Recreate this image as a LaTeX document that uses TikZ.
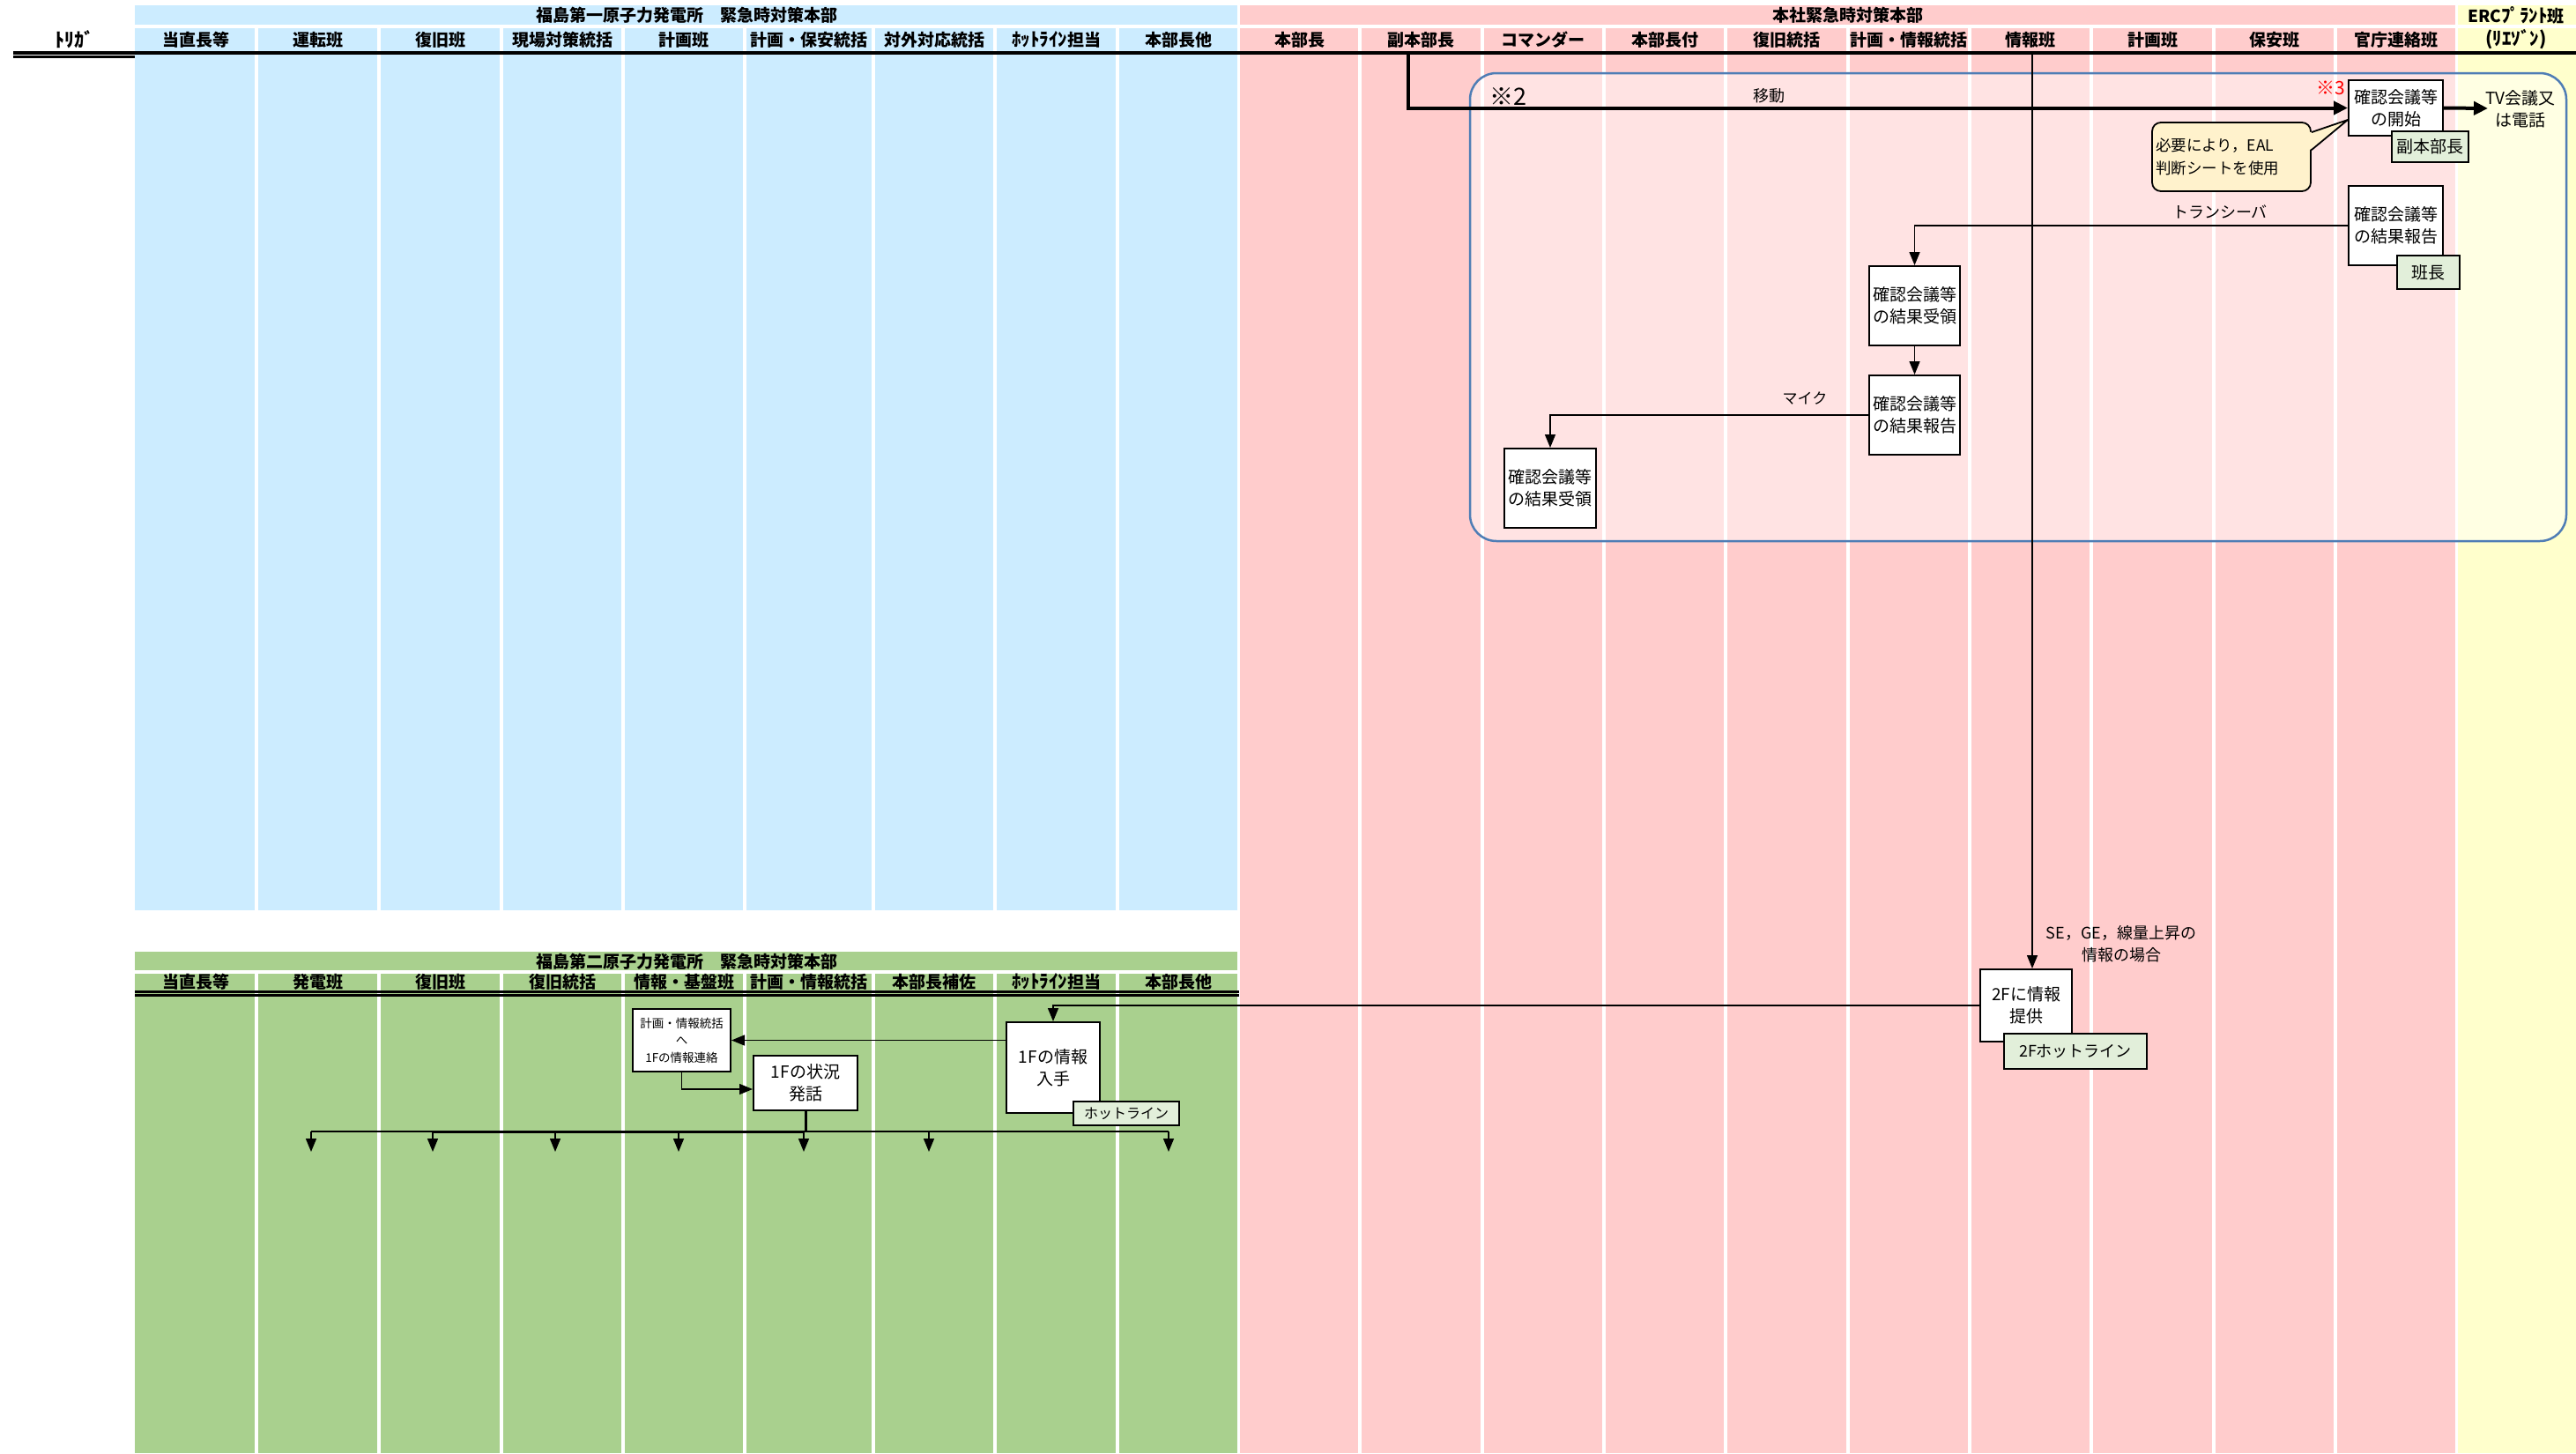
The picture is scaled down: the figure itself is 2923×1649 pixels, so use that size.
\documentclass[tikz,border=0pt]{standalone}
\usepackage{fontspec}
\setmainfont{Noto Sans CJK JP}
\usetikzlibrary{arrows.meta}
\definecolor{cblue}{HTML}{CCECFF}
\definecolor{cpink}{HTML}{FFCCCC}
\definecolor{cyel}{HTML}{FFFFCC}
\definecolor{cgreen}{HTML}{A9D08E}
\definecolor{clab}{HTML}{E2EFDA}
\definecolor{ccall}{HTML}{FFF2CC}
\definecolor{cborder}{HTML}{4F7DB5}
\newcommand{\hk}[1]{{\fontsize{21}{20}\selectfont #1}}
\begin{document}
\begin{tikzpicture}[x=1pt,y=-1pt,
  hdr/.style={font=\bfseries\fontsize{19}{20}\selectfont, inner sep=0pt},
  box/.style={draw, line width=2pt, fill=white, align=center, inner sep=0pt, font=\fontsize{19}{25}\selectfont},
  smallbox/.style={draw, line width=2pt, fill=white, align=center, inner sep=0pt, font=\fontsize{13.5}{19.5}\selectfont},
  lab/.style={draw, line width=2pt, fill=clab, inner sep=0pt, font=\fontsize{18}{20}\selectfont},
  txt/.style={inner sep=0pt, align=center, font=\fontsize{18}{25}\selectfont},
  arr/.style={-{Triangle[length=15pt,width=12pt]}, line width=1.4pt},
  bigarr/.style={-{Triangle[length=16pt,width=15pt]}, line width=4pt},
  sep/.style={white, line width=4pt}]
\useasboundingbox (0,0) rectangle (2923,1649);
\fill[white] (0,0) rectangle (2923,1649);
% backgrounds
\fill[cblue] (153,6) rectangle (1406,1033);
\fill[cgreen] (153,1080) rectangle (1406,1649);
\fill[cpink] (1406,6) rectangle (2787,1649);
\fill[cyel] (2787,6) rectangle (2923,1649);
% separators
\draw[sep] (153,29.5) -- (2923,29.5);
\draw[sep] (153,1103) -- (1406,1103);
\foreach \x in {291,430,569,707,845,991,1129,1268} {
  \draw[sep] (\x,29.5) -- (\x,1033);
  \draw[sep] (\x,1103) -- (\x,1649);
}
\draw[white, line width=3pt] (1405,6) -- (1405,1649);
\foreach \x in {1543,1682,1820,1958,2097,2235,2373,2512,2650} \draw[sep] (\x,29.5) -- (\x,1649);
\draw[white, line width=3pt] (2787,6) -- (2787,1649);
% header lines
\draw[line width=4pt] (15,60) -- (2923,60);
\draw[line width=2.5pt] (15,64.5) -- (153,64.5);
\draw[line width=3.5pt] (153,1125.5) -- (1406,1125.5);
\draw[line width=2.5pt] (153,1129.5) -- (1406,1129.5);
% group headers
\node[hdr] (g1f) at (779.5,17) {福島第一原子力発電所　緊急時対策本部};
\node[hdr] (ghq) at (2096.5,17) {本社緊急時対策本部};
\node[hdr] (gerc) at (2855,17) {ERC\hk{ﾌﾟﾗﾝﾄ}班};
\node[hdr] (gerc2) at (2855,45) {\hk{(ﾘｴｿﾞﾝ)}};
\node[hdr, font=\bfseries\fontsize{22}{20}\selectfont] (trig) at (84,45) {ﾄﾘｶﾞ};
\node[hdr] (g2f) at (779.5,1091) {福島第二原子力発電所　緊急時対策本部};
% column headers
\foreach \a/\b/\t in {153/291/当直長等,291/430/運転班,430/569/復旧班,569/707/現場対策統括,707/845/計画班,845/991/計画・保安統括,991/1129/対外対応統括,1129/1268/\hk{ﾎｯﾄﾗｲﾝ}担当,1268/1406/本部長他}
  \node[hdr] (b\a) at ({(\a+\b)/2},45) {\t};
\foreach \a/\b/\t in {1406/1543/本部長,1543/1682/副本部長,1682/1820/コマンダー,1820/1958/本部長付,1958/2097/復旧統括,2097/2235/計画・情報統括,2235/2373/情報班,2373/2512/計画班,2512/2650/保安班,2650/2787/官庁連絡班}
  \node[hdr] (p\a) at ({(\a+\b)/2},45) {\t};
\foreach \a/\b/\t in {153/291/当直長等,291/430/発電班,430/569/復旧班,569/707/復旧統括,707/845/情報・基盤班,845/991/計画・情報統括,991/1129/本部長補佐,1129/1268/\hk{ﾎｯﾄﾗｲﾝ}担当,1268/1406/本部長他}
  \node[hdr] (q\a) at ({(\a+\b)/2},1114) {\t};
% group frame
\draw[rounded corners=30pt, draw=cborder, line width=2.5pt, fill=white, fill opacity=0.45] (1668,83) rectangle (2912,614);
% coordinates
\coordinate (c0) at (1598,62);
\coordinate (c1) at (2306,62);
\coordinate (tvtip) at (2823,123);
\coordinate (calltip) at (2664,136);
% top boxes
\node[box, minimum width=107pt, minimum height=63pt] (start) at (2718.5,122.5) {確認会議等\\の開始};
\node[lab, minimum width=87pt, minimum height=35pt, font=\fontsize{19}{20}\selectfont] (l1) at (2757.5,166.5) {副本部長};
\node[box, minimum width=107pt, minimum height=90pt] (rep1) at (2718.5,256) {確認会議等\\の結果報告};
\node[lab, minimum width=71pt, minimum height=38pt, font=\fontsize{19}{20}\selectfont] (l2) at (2755.5,309) {班長};
\node[box, minimum width=103pt, minimum height=90pt] (rcv1) at (2172.5,347) {確認会議等\\の結果受領};
\node[box, minimum width=103pt, minimum height=90pt] (rep2) at (2172.5,471) {確認会議等\\の結果報告};
\node[box, minimum width=104pt, minimum height=90pt] (rcv2) at (1759,554) {確認会議等\\の結果受領};
\node[txt, font=\fontsize{19}{25}\selectfont] (tv) at (2860,124) {TV会議又\\は電話};
\node[txt, font=\fontsize{27}{25}\selectfont] (k2) at (1711,110) {※2};
\node[txt] (move) at (2007,109) {移動};
\node[txt, text=red, font=\fontsize{21}{25}\selectfont] (k3) at (2645,100) {※3};
\node[txt] (trans) at (2519,240) {トランシーバ};
\node[txt, font=\fontsize{17}{25}\selectfont] (mic) at (2048,452) {マイク};
% callout
\node[draw, line width=1.8pt, fill=ccall, rounded corners=10pt, minimum width=180pt, minimum height=78pt, inner sep=0pt] (call) at (2532,178) {};
\fill[ccall] ([xshift=-2pt,yshift=-12pt]call.north east) -- (calltip) -- ([xshift=-2pt,yshift=-32pt]call.north east) -- cycle;
\draw[line width=1.8pt, line join=round] ([yshift=-12pt]call.north east) -- (calltip) -- ([yshift=-32pt]call.north east);
\node[inner sep=0pt, align=left, anchor=west, font=\fontsize{17.5}{26}\selectfont] (calltext) at ([xshift=5pt]call.west) {必要により，EAL\\判断シートを使用};
% top connectors
\draw[bigarr, line join=miter] (c0) |- (start.west);
\draw[bigarr] (start.east) -- (tvtip);
\draw[arr] (rep1.west) -| (rcv1.north);
\draw[arr] (rcv1.south) -- (rep2.north);
\draw[arr] (rep2.west) -| (rcv2.north);
% 2F info
\node[box, minimum width=104pt, minimum height=82pt] (f2) at (2299,1141) {2Fに情報\\提供};
\node[lab, minimum width=162pt, minimum height=40pt] (l3) at (2355,1193) {2Fホットライン};
\node[txt] (se) at (2407,1071) {SE，GE，線量上昇の\\情報の場合};
\draw[arr] (c1) -- (c1 |- f2.north);
% lower boxes
\node[box, minimum width=106pt, minimum height=103pt] (h1) at (1195,1211.5) {1Fの情報\\入手};
\node[lab, minimum width=120pt, minimum height=27pt, font=\fontsize{16}{18}\selectfont] (l4) at (1278,1263.5) {ホットライン};
\node[smallbox, minimum width=111pt, minimum height=71pt] (h0) at (773.5,1180.5) {計画・情報統括\\へ\\1Fの情報連絡};
\node[box, minimum width=118pt, minimum height=62pt] (h2) at (914,1229) {1Fの状況\\発話};
\draw[arr] (f2.west) -| (h1.north);
\draw[arr] (h1.west |- h0.east) -- (h0.east);
\draw[arr] (h0.south) |- ([yshift=-7pt]h2.west);
% distribution
\coordinate (dj) at (912,1284);
\foreach \i/\x in {1/353,2/491,3/630,4/770,5/912,6/1054,7/1326} \coordinate (t\i) at (\x,1307);
\draw[line width=3pt] (h2.south) -- (h2.south |- dj);
\draw[line width=1.5pt] (t1 |- dj) -- (t7 |- dj);
\draw[line width=3pt] (t2 |- dj) -- (dj);
\foreach \i in {1,...,7} \draw[arr] (t\i |- dj) -- (t\i);
\end{tikzpicture}
\end{document}
